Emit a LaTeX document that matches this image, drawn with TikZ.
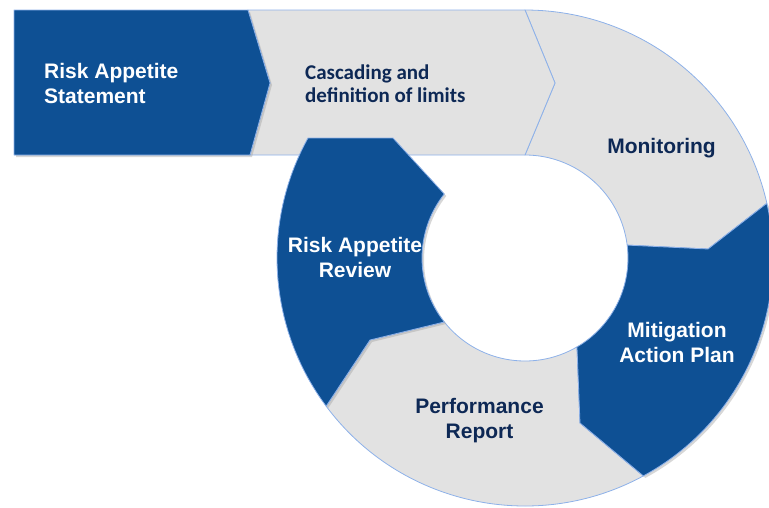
\documentclass[tikz,border=0pt]{standalone}
\usepackage{fontspec}
\setmainfont{Liberation Sans}
\newfontfamily\calfont{Carlito}
\usetikzlibrary{calc,shadows}
\definecolor{segblue}{HTML}{0E5094}
\definecolor{seggrey}{HTML}{E2E2E2}
\definecolor{edgeblue}{HTML}{8DB1E9}
\definecolor{navytext}{HTML}{0D2855}
\tikzset{
  greyseg/.style={fill=seggrey, draw=edgeblue, line width=0.8pt, line join=round},
  blueseg/.style={fill=segblue, draw=edgeblue, line width=0.8pt, line join=round,
    drop shadow={shadow xshift=2pt, shadow yshift=-2pt, fill=black!35, opacity=0.45}},
  wtext/.style={text=white, font=\bfseries\fontsize{21}{25}\selectfont, inner sep=0pt, align=center},
  ntext/.style={text=navytext, font=\bfseries\fontsize{21}{25}\selectfont, inner sep=0pt, align=center},
  ctext/.style={text=navytext, font=\calfont\bfseries\fontsize{21}{23}\selectfont, inner sep=0pt, align=left}
}
\begin{document}
\begin{tikzpicture}[x=1pt,y=-1pt]
\useasboundingbox (0,0) rectangle (769,507);
\clip (0,0) rectangle (769,507);
\coordinate (C) at (525,258);
% Monitoring
\path[greyseg] ($(C)+(-90:248)$) arc[start angle=-90, end angle=-12.75, radius=248]
  -- (708,249) -- ($(C)+(-7.2:103)$) arc[start angle=-7.2, end angle=-90, radius=103]
  -- (555,83) -- cycle;
% Cascading
\path[greyseg] (248,10) -- (525,10) -- (555,83) -- (525,155) -- (250,155) -- (270,83) -- cycle;
% Risk Appetite Statement
\path[blueseg] (14,10) -- (248,10) -- (270,83) -- (250,155) -- (14,155) -- cycle;
% Performance
\path[greyseg] ($(C)+(61.5:248)$) arc[start angle=61.5, end angle=143.3, radius=248]
  -- (370,340) -- ($(C)+(141.6:103)$) arc[start angle=141.6, end angle=59.7, radius=103]
  -- (580,423) -- cycle;
% Mitigation
\path[blueseg] ($(C)+(-12.75:248)$) arc[start angle=-12.75, end angle=61.5, radius=248]
  -- (580,423) -- ($(C)+(59.7:103)$) arc[start angle=59.7, end angle=-7.2, radius=103]
  -- (708,249) -- cycle;
% Review
\path[blueseg] ($(C)+(143.3:248)$) arc[start angle=143.3, end angle=208.94, radius=248]
  -- (393,138) -- ($(C)+(218.4:103)$) arc[start angle=218.4, end angle=141.6, radius=103]
  -- (370,340) -- cycle;
% texts (base anchor = baseline of the last line)
\node[wtext, align=left, anchor=base west] (ras) at (44,103) {Risk Appetite\\Statement};
\node[ctext, anchor=base west] (cas) at (305,102) {Cascading and\\definition of limits};
\node[ntext, anchor=base] (mon) at (661.5,153) {Monitoring};
\node[wtext, anchor=base] (rev) at (355,277) {Risk Appetite\\Review};
\node[wtext, anchor=base] (mit) at (677,362) {Mitigation\\Action Plan};
\node[ntext, anchor=base] (per) at (479.5,438) {Performance\\Report};
\end{tikzpicture}
\end{document}
